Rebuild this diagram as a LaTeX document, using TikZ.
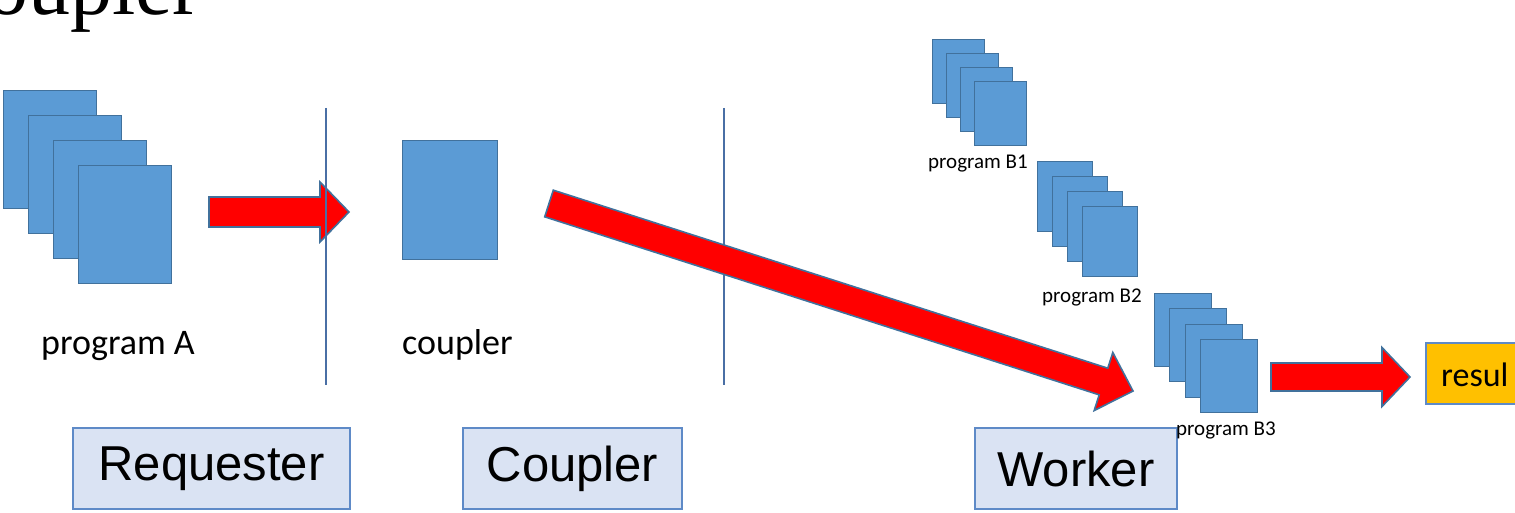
\documentclass[tikz,border=0pt]{standalone}
\usepackage{fontspec}
\usetikzlibrary{calc}
\newfontfamily\carlito{Carlito}
\newfontfamily\arialf{Liberation Sans}
\newfontfamily\timesf{Liberation Serif}

\definecolor{pagefill}{HTML}{5B9BD5}
\definecolor{pageedge}{HTML}{41719C}
\definecolor{tierfill}{HTML}{DAE3F3}
\definecolor{tieredge}{HTML}{5E8AC7}
\definecolor{divider}{HTML}{4A6FA5}
\definecolor{resultfill}{HTML}{FFC000}

\tikzset{
  page/.style={draw=pageedge, line width=1pt, fill=pagefill, rectangle,
    inner sep=0pt, anchor=north west},
  redarrow/.style={draw=pageedge, line width=1.6pt, fill=red, line join=miter},
  tierbox/.style={draw=tieredge, line width=2pt, fill=tierfill, rectangle,
    inner sep=0pt, font=\arialf\fontsize{49}{54}\selectfont},
  biglabel/.style={inner sep=0pt, anchor=base west, font=\carlito\fontsize{36}{40}\selectfont},
  smalllabel/.style={inner sep=0pt, anchor=base west, font=\carlito\fontsize{21}{24}\selectfont},
  divline/.style={draw=divider, line width=2pt},
}

% block arrow: tail, tip, half shaft width, half head width, head length
\newcommand\blockarrow[5]{%
  \coordinate (ba-h) at ($(#2)!#5!(#1)$);
  \draw[redarrow] ($(#1)!#3!90:(#2)$) -- ($(ba-h)!#3!90:(#2)$)
    -- ($(ba-h)!#4!90:(#2)$) -- (#2) -- ($(ba-h)!#4!-90:(#2)$)
    -- ($(ba-h)!#3!-90:(#2)$) -- ($(#1)!#3!-90:(#2)$) -- cycle;}

% stack of four pages: name prefix, top-left x, y, width, height, offset
\newcommand\pagestack[6]{%
  \foreach \i in {0,1,2,3}{
    \node[page, minimum width=#4pt, minimum height=#5pt]
      (#1\i) at ({#2+\i*#6},{#3+\i*#6}) {};
  }}

\begin{document}
\begin{tikzpicture}[x=1pt, y=-1pt]
\useasboundingbox (0,0) rectangle (1515,513);

% heading
\node[inner sep=0pt, anchor=base east, font=\timesf\fontsize{84}{92}\selectfont]
  (title) at (201,15) {oupler};

% requester side
\pagestack{pa}{3}{90}{93}{118}{25}
\node[biglabel] (labA) at (41,354) {program A};

% coupler
\node[page, minimum width=95pt, minimum height=119pt] (cp) at (402,140) {};
\node[biglabel] (labC) at (402,354) {coupler};

% workers
\pagestack{pb}{932}{39}{52}{64}{14}
\node[smalllabel] (labB1) at (928,169) {program B1};
\pagestack{pc}{1037}{161}{55}{70}{15}
\node[smalllabel] (labB2) at (1042,302) {program B2};
\pagestack{pd}{1154}{293}{57}{73}{15.3}

% result
\node[draw=tieredge, line width=2pt, fill=resultfill, rectangle, inner sep=0pt,
  anchor=north west, minimum width=110pt, minimum height=61pt] (res) at (1425,342) {};
\node[inner sep=0pt, anchor=base west, font=\carlito\fontsize{34}{38}\selectfont]
  (reslab) at (1441,386) {resul};

% arrows and dividers
\coordinate (a1t) at (209,212);
\coordinate (a1h) at (349,212);
\blockarrow{a1t}{a1h}{15pt}{30pt}{29pt}

\coordinate (d1a) at (326,108);
\coordinate (d1b) at (326,385);
\draw[divline] (d1a) -- (d1b);
\coordinate (d2a) at (724,108);
\coordinate (d2b) at (724,385);
\draw[divline] (d2a) -- (d2b);

\coordinate (a2t) at (549,203.5);
\coordinate (a2h) at (1133,391);
\blockarrow{a2t}{a2h}{14pt}{30.5pt}{31pt}

\coordinate (a3t) at (1271,377);
\coordinate (a3h) at (1410,377);
\blockarrow{a3t}{a3h}{14pt}{29.5pt}{28pt}

% tier boxes
\node[tierbox, minimum width=277pt, minimum height=81pt] (req) at (211.5,468.5) {Requester};
\node[tierbox, minimum width=219pt, minimum height=81pt] (cpl) at (572.5,468.5) {Coupler};
\node[tierbox, minimum width=202pt, minimum height=81pt] (wrk) at (1076,468.5) {Worker};

\node[smalllabel] (labB3) at (1176,435) {program B3};
\end{tikzpicture}
\end{document}
